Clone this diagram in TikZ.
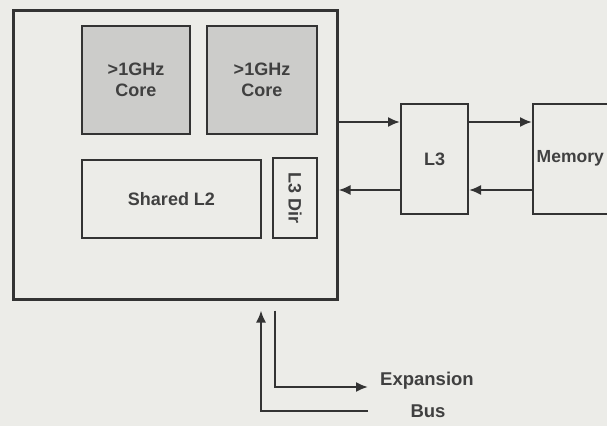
\documentclass[tikz,border=0pt]{standalone}
\usepackage{fontspec}
\setmainfont{Liberation Sans}
\usetikzlibrary{arrows.meta,shapes}
\definecolor{paper}{RGB}{236,236,232}
\definecolor{coregray}{RGB}{204,204,202}
\tikzstyle{blk}=[rectangle,draw=black!80,line width=2pt,inner sep=0pt,font=\fontsize{18}{21}\selectfont\bfseries,text=black!75,align=center]
\tikzstyle{lbl}=[inner sep=0pt,font=\fontsize{18.5}{21}\selectfont\bfseries,text=black!75]
\tikzstyle{dflow}=[->,>={Latex[length=12pt,width=10pt]},line width=2pt,draw=black!80]
\begin{document}
\begin{tikzpicture}[x=1pt,y=-1pt]
\useasboundingbox[fill=paper](0,0) rectangle (607,426);
\clip (0,0) rectangle (607,426);
\node[blk,line width=3pt,minimum width=324,minimum height=289] (chip) at (175,154.5) {};
\node[blk,fill=coregray,minimum width=108,minimum height=108] (C1) at (136,80) {>1GHz\\Core};
\node[blk,fill=coregray,minimum width=110,minimum height=108] (C2) at (262,80) {>1GHz\\Core};
\node[blk,minimum width=179,minimum height=78] (L2) at (171.5,199) {Shared L2};
\node[blk,minimum width=44,minimum height=80] (D) at (295,198) {\rotatebox{-90}{L3 Dir}};
\node[blk,minimum width=67,minimum height=110] (L3) at (434.5,159) {L3};
\node[blk,minimum width=80,minimum height=110] (M) at (573,159) {};
\node[lbl,anchor=west,font=\fontsize{17.5}{21}\selectfont\bfseries] (MT) at (536.5,158) {Memory};
\coordinate (exp) at (368,387);
\coordinate (bus) at (368,411);
\node[lbl,anchor=west] (E) at (380,381) {Expansion};
\node[lbl] (B) at (428,411) {Bus};
\draw[dflow]([yshift=37pt]L3.west -| chip.east)--([yshift=37pt]L3.west);
\draw[dflow]([yshift=-31pt]L3.west)--([yshift=-31pt]L3.west -| chip.east);
\draw[dflow]([yshift=37pt]L3.east)--([yshift=37pt]L3.east -| M.west);
\draw[dflow]([yshift=-31pt]M.west)--([yshift=-31pt]M.west -| L3.east);
\draw[dflow](bus)-|([xshift=86pt,yshift=-10pt]chip.south);
\draw[dflow]([xshift=100pt,yshift=-10pt]chip.south)|-(exp);
\end{tikzpicture}
\end{document}
